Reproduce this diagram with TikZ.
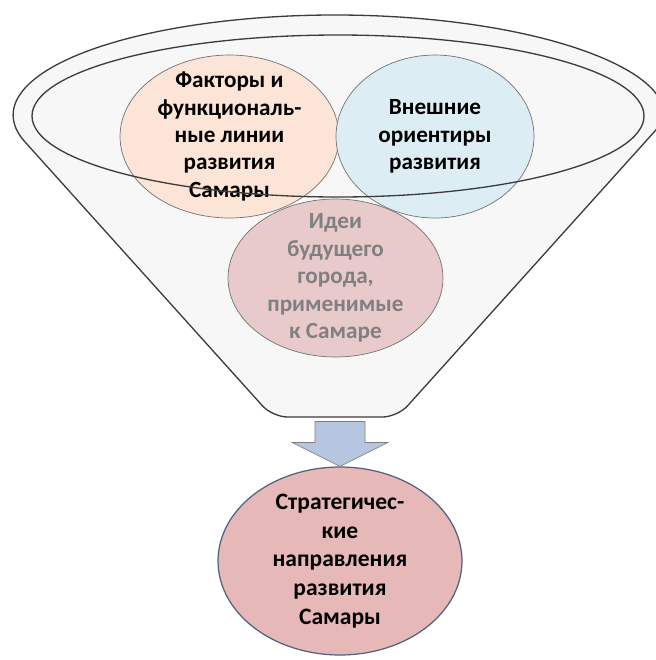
\documentclass[tikz,border=0pt]{standalone}
\usepackage{fontspec}
\setmainfont{Carlito}
\usetikzlibrary{shapes.geometric}

\definecolor{peach}{HTML}{FCE4D6}
\definecolor{skyblue}{HTML}{DCEEF3}
\definecolor{rosy}{HTML}{E9CACA}
\definecolor{redish}{HTML}{E6B9B8}
\definecolor{slate}{HTML}{4F6081}
\definecolor{arrowblue}{HTML}{B7C6E0}
\definecolor{rimgray}{HTML}{3C3C3C}

\tikzset{
	bubble/.style={ellipse,draw=black!55,inner sep=-0.5cm,align=center,
		font=\bfseries\fontsize{13.2}{15.6}\selectfont},
	rim/.style={draw=rimgray,line width=0.75pt}
}

\begin{document}
\begin{tikzpicture}[x=0.02cm,y=-0.02cm]
		\useasboundingbox (0,0) rectangle (656,660);
		% funnel
		\draw[rim,fill=black!3] (645.2,141.9) arc[start angle=15.6,end angle=-195.6,x radius=322,y radius=100]
			[rounded corners=0.3cm] -- (272.5,417) -- (397.5,417) -- cycle;
		\node[bubble,fill=peach,minimum width=4.38cm,minimum height=3.26cm] (factors) at (229.5,136.5)
			{Факторы и\\функциональ-\\ные линии\\развития\\Самары};
		\node[bubble,fill=skyblue,minimum width=3.96cm,minimum height=3.26cm] (landmarks) at (435,136.5)
			{Внешние\\ориентиры\\развития};
		\draw[rim] (338,116) ellipse[x radius=306,y radius=81];
		\node[bubble,fill=rosy,text=black!50,minimum width=4.3cm,minimum height=3.16cm] (ideas) at (335.5,278)
			{Идеи\\будущего\\города,\\применимые\\к Самаре};
		% result
		\node[bubble,draw=slate,line width=0.7pt,fill=redish,minimum width=4.88cm,minimum height=3.76cm,
			font=\bfseries\fontsize{13.4}{16.4}\selectfont] (strategy) at (340,561)
			{Стратегичес-\\кие\\направления\\развития\\Самары};
		\draw[draw=black!50,fill=arrowblue] (strategy.north) -- ++(-48,-24) -- ++(23,0) -- ++(0,-21)
			-- ++(50,0) -- ++(0,21) -- ++(23,0) -- cycle;
	\end{tikzpicture}
\end{document}
